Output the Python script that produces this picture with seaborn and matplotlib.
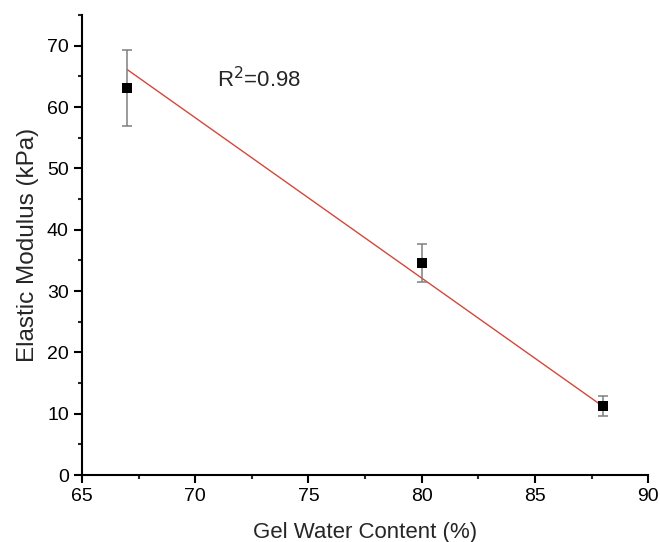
import matplotlib
matplotlib.use("Agg")
import matplotlib.pyplot as plt
import seaborn as sns
import pandas as pd
from matplotlib.ticker import MultipleLocator

water_content = [67, 80, 88]
modulus = [63.1, 34.5, 11.2]
modulus_err = [6.2, 3.1, 1.65]
fit_x = [67, 88]
fit_y = [66.1, 11.2]

sns.set_style("ticks")
plt.rcParams['font.family'] = ['Liberation Sans', 'DejaVu Sans']

fig = plt.figure(figsize=(6.6, 5.42), dpi=100)
ax = fig.add_axes([0.1242, 0.1236, 0.982 - 0.1242, 0.9723 - 0.1236])

df = pd.DataFrame({"x": water_content, "y": modulus})
fit = pd.DataFrame({"x": fit_x, "y": fit_y})

sns.lineplot(data=fit, x="x", y="y", ax=ax, color="#d4473b", linewidth=1.0, zorder=2)
ax.errorbar(water_content, modulus, yerr=modulus_err, fmt="none", ecolor="#7f7f7f",
            elinewidth=1.1, capsize=3.5, capthick=1.1, zorder=3)
sns.scatterplot(data=df, x="x", y="y", ax=ax, marker="s", color="black", s=55,
                edgecolor="black", linewidth=0, zorder=4)

ax.set_xlim(65, 90)
ax.set_ylim(0, 75)
ax.xaxis.set_major_locator(MultipleLocator(5))
ax.xaxis.set_minor_locator(MultipleLocator(2.5))
ax.yaxis.set_major_locator(MultipleLocator(10))
ax.yaxis.set_minor_locator(MultipleLocator(5))
ax.tick_params(which="major", direction="out", length=5.5, width=1.5, labelsize=14, colors="black", pad=4)
ax.tick_params(which="minor", direction="out", length=3.2, width=1.5)
for s in ["left", "bottom"]:
    ax.spines[s].set_linewidth(1.5)
    ax.spines[s].set_color("black")
sns.despine(ax=ax)

ax.set_xlabel("Gel Water Content (%)", fontsize=16, labelpad=12)
ax.set_ylabel("Elastic Modulus (kPa)", fontsize=17.5, labelpad=6)
ax.text(70.95, 64.4, "R$^2$=0.98", fontsize=16, ha="left", va="center")

fig.savefig("out.png", dpi=100)
